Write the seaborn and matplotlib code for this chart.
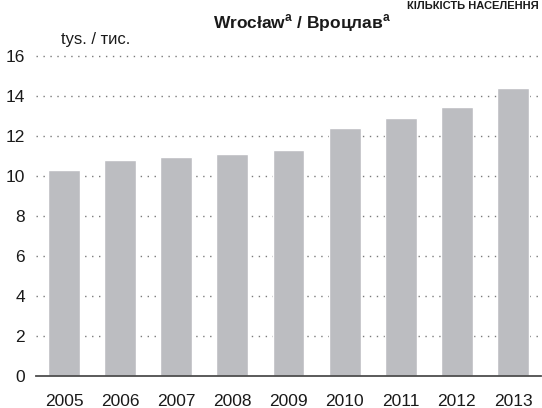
import matplotlib
matplotlib.use("Agg")
import matplotlib.pyplot as plt
import seaborn as sns
import pandas as pd
from matplotlib.ticker import FixedLocator

years = ["2005", "2006", "2007", "2008", "2009", "2010", "2011", "2012", "2013"]
values = [10.3, 10.8, 10.95, 11.1, 11.3, 12.4, 12.9, 13.45, 14.4]
y_ticks = [0, 2, 4, 6, 8, 10, 12, 14, 16]

title_main = "Wrocław"
title_alt = "Вроцлав"
unit_label = "tys. / тис."
header_text = "КІЛЬКІСТЬ НАСЕЛЕННЯ"

sns.set_theme(style="white")
plt.rcParams["font.family"] = ["Liberation Sans Narrow", "Liberation Sans", "DejaVu Sans"]
plt.rcParams["lines.scale_dashes"] = False

df = pd.DataFrame({"year": years, "value": values})

fig = plt.figure(figsize=(5.42, 4.08), dpi=100)
ax = fig.add_axes([36 / 542, 32.3 / 408, 505 / 542, 320 / 408])

sns.barplot(data=df, x="year", y="value", color="#bcbdc1", width=0.57,
            saturation=1, ax=ax, zorder=2)

ax.set_xlim(-0.5, len(years) - 0.5)
ax.set_ylim(0, 16)
ax.set_yticks(y_ticks)
ax.set_xlabel("")
ax.set_ylabel("")

# dotted horizontal guides behind the bars
for v in y_ticks[1:]:
    ax.axhline(v, color="#7a7a7a", lw=1.0, ls=(0, (1.0, 4.0)), zorder=1, clip_on=False)

for s in ["top", "right", "left"]:
    ax.spines[s].set_visible(False)
ax.spines["bottom"].set_color("#4d4d4d")
ax.spines["bottom"].set_linewidth(1.3)
ax.spines["bottom"].set_zorder(3)

ax.tick_params(axis="y", length=0, pad=8, labelsize=12.5, labelcolor="#1a1a1a")
ax.tick_params(axis="x", which="major", length=0, pad=13, labelsize=12.5, labelcolor="#1a1a1a")
ax.xaxis.set_minor_locator(FixedLocator([i - 0.5 for i in range(len(years) + 1)]))
ax.tick_params(axis="x", which="minor", length=5, width=1.3, color="#4d4d4d", direction="out")

fig.text(213 / 542, 1 - 28 / 408, title_main + r"$^{\mathregular{a}}$" + " / " + title_alt + r"$^{\mathregular{a}}$",
         fontsize=12.5, fontweight="bold", ha="left", va="baseline", color="#1a1a1a")
fig.text(61 / 542, 1 - 44 / 408, unit_label, fontsize=12, ha="left", va="baseline", color="#1a1a1a")
fig.text(539 / 542, 1 - 9 / 408, header_text, fontsize=8, fontweight="bold",
         ha="right", va="baseline", color="#1a1a1a")

fig.savefig("out.png", dpi=100)
